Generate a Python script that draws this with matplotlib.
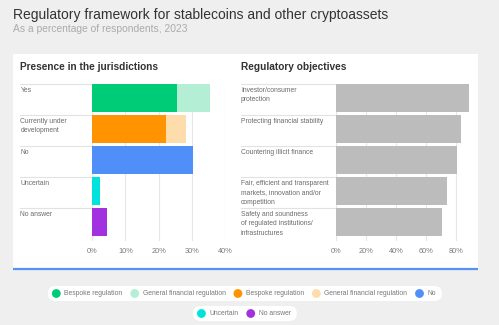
import matplotlib
matplotlib.use('Agg')
import matplotlib.pyplot as plt
from matplotlib.patches import FancyBboxPatch, Circle, Rectangle
from matplotlib.lines import Line2D
from matplotlib.transforms import blended_transform_factory

plt.rcParams['font.family'] = ['Liberation Sans', 'DejaVu Sans']

W, H = 499, 325

# presence of a regulatory framework (% of respondents)
presence_cats = ['Yes', 'Currently under\ndevelopment', 'No', 'Uncertain', 'No answer']
presence_bespoke = [25.7, 22.3, 30.3, 2.2, 4.5]
presence_general = [9.8, 5.9, 0, 0, 0]
bespoke_colors = ['#00cc78', '#ff9300', '#4f8ff7', '#00e2dc', '#a232e0']
general_colors = ['#b3eed5', '#ffdcab', '#4f8ff7', '#00e2dc', '#a232e0']

# regulatory objectives (% of respondents)
objective_cats = ['Investor/consumer\nprotection', 'Protecting financial stability',
                  'Countering illicit finance',
                  'Fair, efficient and transparent\nmarkets, innovation and/or\ncompetition',
                  'Safety and soundness\nof regulated institutions/\ninfrastructures']
objective_vals = [88.9, 83.3, 80.8, 74.3, 70.8]

legend_labels = ['Bespoke regulation', 'General financial regulation', 'Bespoke regulation',
                 'General financial regulation', 'No', 'Uncertain', 'No answer']
legend_colors = ['#00cc78', '#b3eed5', '#ff9300', '#ffdcab', '#4f8ff7', '#00e2dc', '#a232e0']
legend_rows = [5, 2]

label_col = '#6a6a6a'
tick_col = '#7a7a7a'
grid_col = '#e6e6e6'
sep_col = '#e2e2e2'

fig = plt.figure(figsize=(W / 100, H / 100), dpi=100)
fig.patch.set_facecolor('#efefef')

# full-size pixel canvas for the panel, headings and legend
bg = fig.add_axes([0, 0, 1, 1], zorder=0)
bg.set_xlim(0, W)
bg.set_ylim(H, 0)
bg.axis('off')
bg.add_patch(Rectangle((13, 54), 465.5, 214, facecolor='white', edgecolor='none'))
bg.plot([13, 478.5], [268.5, 268.5], color='#5592f5', lw=1.6, solid_capstyle='butt')

bg.text(13, 15, 'Regulatory framework for stablecoins and other cryptoassets',
        fontsize=10, color='#333333', va='center', ha='left')
bg.text(13, 28.5, 'As a percentage of respondents, 2023',
        fontsize=7.4, color='#ababab', va='center', ha='left')
bg.text(20.5, 67.5, 'Presence in the jurisdictions', fontsize=7.3,
        fontweight='bold', color='#333333', va='center', ha='left')
bg.text(241, 67.5, 'Regulatory objectives', fontsize=7.3,
        fontweight='bold', color='#333333', va='center', ha='left')


def px_rect(x0, y0, x1, y1):
    return [x0 / W, 1 - y1 / H, (x1 - x0) / W, (y1 - y0) / H]


def style_axes(ax, xmax, ticks, label_x, cats):
    ax.set_facecolor('none')
    ax.set_xlim(0, xmax)
    ax.set_ylim(4.6, -0.45)
    ax.set_xticks(ticks)
    ax.set_xticklabels(['%d%%' % t for t in ticks])
    ax.set_yticks([])
    ax.tick_params(axis='x', length=0, pad=5.3, labelsize=5.3, labelcolor=tick_col)
    for s in ax.spines.values():
        s.set_visible(False)
    ax.grid(axis='x', color=grid_col, lw=0.8)
    ax.set_axisbelow(True)
    blend = blended_transform_factory(bg.transData, ax.transData)
    x_axis0 = ax.transData.transform((0, 0))[0]
    x_axis0 = bg.transData.inverted().transform((x_axis0, 0))[0]
    for i, cat in enumerate(cats):
        ax.add_line(Line2D([label_x, x_axis0], [i - 0.45, i - 0.45], color=sep_col,
                           lw=0.8, transform=blend, clip_on=False))
        ax.text(label_x, i - 0.36, cat, transform=blend, fontsize=4.9, color=label_col,
                va='top', ha='left', linespacing=1.45, clip_on=False)


ax1 = fig.add_axes(px_rect(92.3, 84.3, 224.8, 241), zorder=1)
style_axes(ax1, 40, [0, 10, 20, 30, 40], 20.5, presence_cats)
ypos = range(len(presence_cats))
ax1.barh(ypos, presence_bespoke, height=0.9, color=bespoke_colors, zorder=2)
ax1.barh(ypos, presence_general, left=presence_bespoke, height=0.9,
         color=general_colors, zorder=2)

ax2 = fig.add_axes(px_rect(336, 84.3, 471, 241), zorder=1)
style_axes(ax2, 90, [0, 20, 40, 60, 80], 241, objective_cats)
ax2.barh(range(len(objective_cats)), objective_vals, height=0.9, color='#bcbcbc', zorder=2)

# legend pills
renderer = fig.canvas.get_renderer()
row_y = [293.5, 313.5]
start = 0
for r, n in enumerate(legend_rows):
    items = list(zip(legend_labels[start:start + n], legend_colors[start:start + n]))
    start += n
    texts = [bg.text(0, row_y[r], lab, fontsize=4.9, color='#777777', va='center', ha='left')
             for lab, _ in items]
    widths = [t.get_window_extent(renderer).width for t in texts]
    total = 8.3 + sum(8 + w for w in widths) + 12.3 * (n - 1) + 6
    x = 245 - total / 2
    bg.add_patch(FancyBboxPatch((x, row_y[r] - 7.5), total, 15,
                                boxstyle='round,pad=0,rounding_size=7.5',
                                facecolor='white', edgecolor='none', zorder=1))
    cx = x + 8.3
    for (lab, col), t, w in zip(items, texts, widths):
        bg.add_patch(Circle((cx, row_y[r]), 4.4, facecolor=col, edgecolor='none', zorder=2))
        t.set_x(cx + 8)
        t.set_zorder(3)
        cx = cx + 8 + w + 12.3

fig.savefig('out.png', dpi=100, facecolor=fig.get_facecolor())
